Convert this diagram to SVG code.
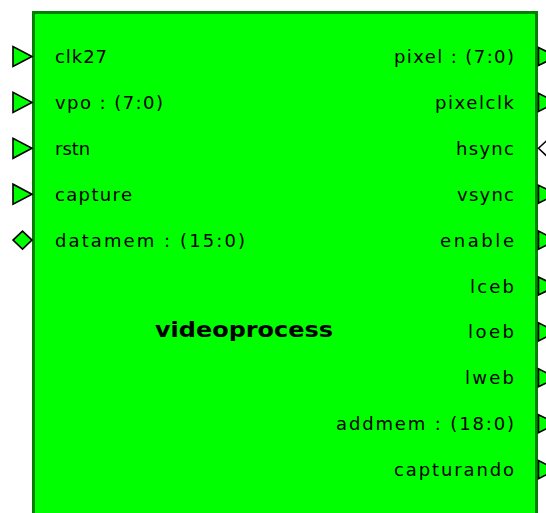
<svg xmlns="http://www.w3.org/2000/svg" xmlns:xlink="http://www.w3.org/1999/xlink" width="546" height="513" viewBox="0 0 546 513">
  <style>
    .body { fill: #00ff00; stroke: #008000; stroke-width: 3; }
    .pin { fill: #00ff00; stroke: #000000; stroke-width: 1.6; stroke-linejoin: miter; }
    .pin-io { fill: #ffffff; stroke: #000000; stroke-width: 1.5; }
    .lbl { font-family: "DejaVu Sans", Verdana, sans-serif; font-size: 18px; fill: #000000; }
    .lbl-r { text-anchor: end; }
    .title { font-family: "DejaVu Sans", Verdana, sans-serif; font-size: 21px; font-weight: bold; fill: #000000; }
  </style>
  <defs>
    <!-- input arrow, apex at (0,0) pointing right into the block -->
    <polygon id="tri-in" points="-19,-10 -19,10 0,0"/>
    <!-- output arrow, base at (0,0) pointing away from the block -->
    <polygon id="tri-out" points="0,-9 0,9 18,0"/>
    <!-- bidirectional diamond, centred -->
    <polygon id="dia" points="-9.5,0 0,-9 9.5,0 0,9"/>
  </defs>

  <rect width="546" height="513" fill="#ffffff"/>

  <g id="videoprocess">
    <rect class="body" x="33.5" y="12.5" width="503" height="520"/>
    <text class="title" x="155" y="337" textLength="178" lengthAdjust="spacingAndGlyphs">videoprocess</text>
  </g>

  <!-- input ports -->
  <g id="port-clk27">
    <use href="#tri-in" class="pin" x="32" y="56.5"/>
    <text class="lbl" x="55" y="63" textLength="52">clk27</text>
  </g>
  <g id="port-vpo">
    <use href="#tri-in" class="pin" x="32" y="102.4"/>
    <text class="lbl" x="55" y="108.9" textLength="108">vpo : (7:0)</text>
  </g>
  <g id="port-rstn">
    <use href="#tri-in" class="pin" x="32" y="148.3"/>
    <text class="lbl" x="55" y="154.8">rstn</text>
  </g>
  <g id="port-capture">
    <use href="#tri-in" class="pin" x="32" y="194.2"/>
    <text class="lbl" x="55" y="200.7" textLength="77">capture</text>
  </g>
  <g id="port-datamem">
    <use href="#dia" class="pin" x="22.5" y="240.1"/>
    <text class="lbl" x="55" y="246.6" textLength="190">datamem : (15:0)</text>
  </g>

  <!-- output ports -->
  <g id="port-pixel">
    <use href="#tri-out" class="pin" x="538.5" y="56.5"/>
    <text class="lbl lbl-r" x="514" y="63" textLength="120">pixel : (7:0)</text>
  </g>
  <g id="port-pixelclk">
    <use href="#tri-out" class="pin" x="538.5" y="102.4"/>
    <text class="lbl lbl-r" x="514" y="108.9" textLength="79">pixelclk</text>
  </g>
  <g id="port-hsync">
    <use href="#dia" class="pin-io" x="548" y="148.3"/>
    <text class="lbl lbl-r" x="514" y="154.8" textLength="58">hsync</text>
  </g>
  <g id="port-vsync">
    <use href="#tri-out" class="pin" x="538.5" y="194.2"/>
    <text class="lbl lbl-r" x="514" y="200.7" textLength="57">vsync</text>
  </g>
  <g id="port-enable">
    <use href="#tri-out" class="pin" x="538.5" y="240.1"/>
    <text class="lbl lbl-r" x="514" y="246.6" textLength="74">enable</text>
  </g>
  <g id="port-lceb">
    <use href="#tri-out" class="pin" x="538.5" y="286"/>
    <text class="lbl lbl-r" x="514" y="292.5" textLength="44">lceb</text>
  </g>
  <g id="port-loeb">
    <use href="#tri-out" class="pin" x="538.5" y="331.9"/>
    <text class="lbl lbl-r" x="514" y="338.4" textLength="46">loeb</text>
  </g>
  <g id="port-lweb">
    <use href="#tri-out" class="pin" x="538.5" y="377.8"/>
    <text class="lbl lbl-r" x="514" y="384.3" textLength="49">lweb</text>
  </g>
  <g id="port-addmem">
    <use href="#tri-out" class="pin" x="538.5" y="423.7"/>
    <text class="lbl lbl-r" x="514" y="430.2" textLength="178">addmem : (18:0)</text>
  </g>
  <g id="port-capturando">
    <use href="#tri-out" class="pin" x="538.5" y="469.6"/>
    <text class="lbl lbl-r" x="514" y="476.1" textLength="120">capturando</text>
  </g>
</svg>
